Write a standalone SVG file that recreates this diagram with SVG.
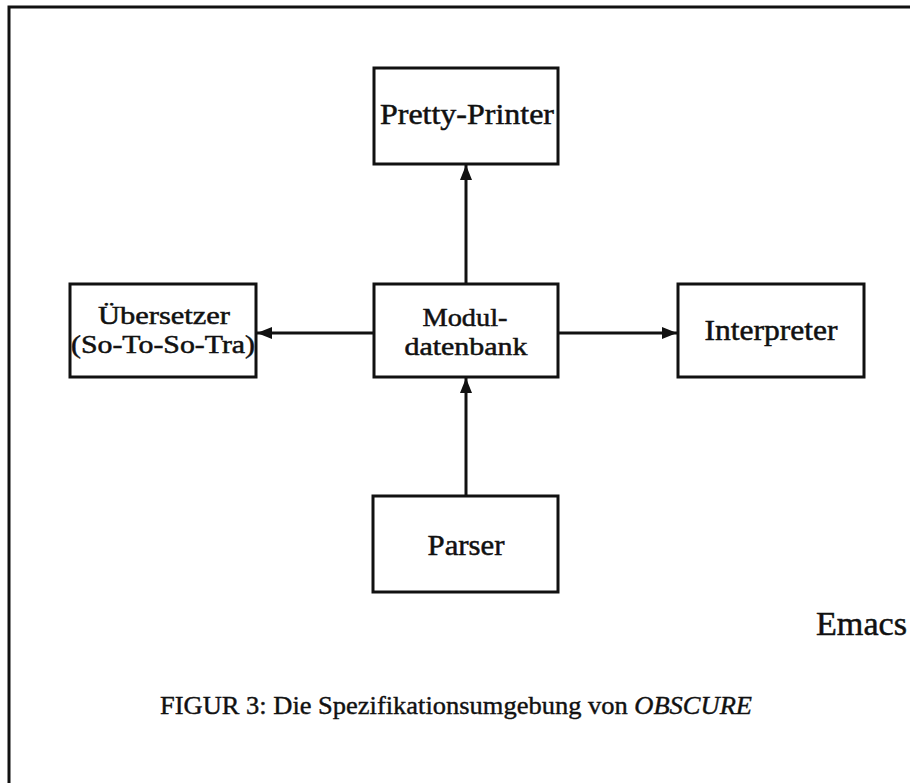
<svg xmlns="http://www.w3.org/2000/svg" width="910" height="783" viewBox="0 0 910 783">
<defs>
<style>
.box{fill:none;stroke:#111;stroke-width:3}
.lbl{font-family:"Liberation Serif","Times New Roman",serif;font-size:29px;fill:#111;stroke:#111;stroke-width:0.5;text-anchor:middle}
.two{font-size:25px}
.conn{stroke:#111;stroke-width:3;fill:none}
.frame{stroke:#111;stroke-width:3;fill:none}
</style>
<marker id="ah" markerUnits="userSpaceOnUse" markerWidth="16" markerHeight="14" refX="15" refY="7" orient="auto">
<path d="M0,1 L15,7 L0,13 Z" fill="#111"/>
</marker>
</defs>
<rect width="910" height="783" fill="#fff"/>
<path class="frame" d="M9,783 L9,7 L910,7"/>
<g id="pretty-printer">
<rect class="box" x="374" y="68" width="184" height="96"/>
<text class="lbl" x="467" y="124" textLength="174" lengthAdjust="spacingAndGlyphs">Pretty-Printer</text>
</g>
<g id="modul">
<rect class="box" x="374" y="284" width="184" height="93"/>
<text class="lbl two" x="465" y="326" textLength="85" lengthAdjust="spacingAndGlyphs">Modul-</text>
<text class="lbl two" x="466" y="355" textLength="123" lengthAdjust="spacingAndGlyphs">datenbank</text>
</g>
<g id="uebersetzer">
<rect class="box" x="70" y="284" width="186" height="93"/>
<text class="lbl two" x="164" y="324" textLength="132" lengthAdjust="spacingAndGlyphs">Übersetzer</text>
<text class="lbl two" x="163" y="353" textLength="184" lengthAdjust="spacingAndGlyphs">(So-To-So-Tra)</text>
</g>
<g id="interpreter">
<rect class="box" x="678" y="284" width="186" height="93"/>
<text class="lbl" x="771" y="340" textLength="133" lengthAdjust="spacingAndGlyphs">Interpreter</text>
</g>
<g id="parser">
<rect class="box" x="373" y="496" width="185" height="96"/>
<text class="lbl" x="466" y="555" textLength="77" lengthAdjust="spacingAndGlyphs">Parser</text>
</g>
<g id="connectors">
<line class="conn" x1="466" y1="284" x2="466" y2="165" marker-end="url(#ah)"/>
<line class="conn" x1="374" y1="333" x2="257" y2="333" marker-end="url(#ah)"/>
<line class="conn" x1="558" y1="333" x2="677" y2="333" marker-end="url(#ah)"/>
<line class="conn" x1="466" y1="496" x2="466" y2="378" marker-end="url(#ah)"/>
</g>
<text id="emacs" x="816" y="635" font-family="'Liberation Serif','Times New Roman',serif" font-size="34" fill="#111" stroke="#111" stroke-width="0.5" textLength="91" lengthAdjust="spacingAndGlyphs">Emacs</text>
<text id="caption" x="160" y="714" font-family="'Liberation Serif','Times New Roman',serif" font-size="25" fill="#111" stroke="#111" stroke-width="0.4" textLength="592" lengthAdjust="spacingAndGlyphs">FIGUR 3: Die Spezifikationsumgebung von <tspan font-style="italic">OBSCURE</tspan></text>
</svg>
